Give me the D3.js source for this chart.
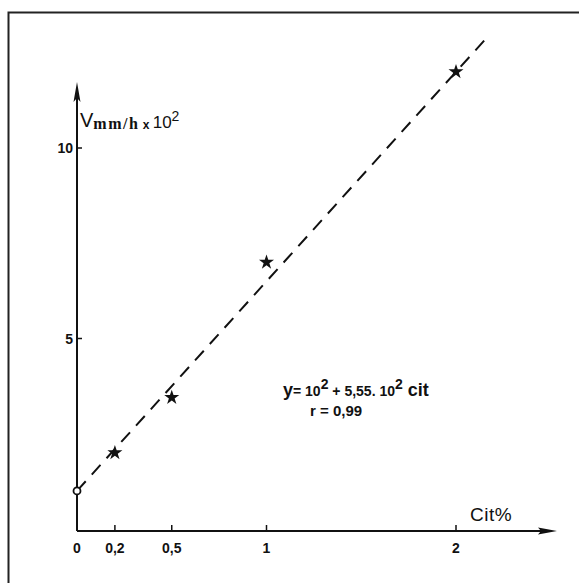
<!DOCTYPE html>
<html><head><meta charset="utf-8">
<script src="https://cdn.jsdelivr.net/npm/d3@7"></script>
<style>body{margin:0;background:#fff}svg{display:block}text{font-family:"Liberation Sans",Arial,sans-serif;fill:#111}</style>
</head><body>
<script>
// Data
const xTickValues = [0, 0.2, 0.5, 1, 2];
const xTickLabels = ["0", "0,2", "0,5", "1", "2"];
const yTickValues = [5, 10];
const yTickLabels = ["5", "10"];
const cit = [0.2, 0.5, 1, 2];          // Cit %
const speed = [2.0, 3.45, 7.0, 12.0];   // V mm/h x 10^2
const intercept = 1;                     // open circle at x=0
const slope = 5.5;
const fitEnd = 2.16;

const W = 579, H = 583;
const svg = d3.select("body").append("svg").attr("width", W).attr("height", H);

const x = d3.scaleLinear().domain([0, 2]).range([77, 456]);
const y = d3.scaleLinear().domain([0, 10]).range([529, 148]);

// frame
svg.append("path").attr("d", `M8.5,${H} L8.5,12.5 L${W},12.5`).attr("fill", "none").attr("stroke", "#222").attr("stroke-width", 2);

const axisY0 = 531;
// x axis
svg.append("line").attr("x1", x(0)).attr("x2", 545).attr("y1", axisY0).attr("y2", axisY0).attr("stroke", "#111").attr("stroke-width", 2);
svg.append("path").attr("d", `M557,${axisY0} L538,${axisY0-3.5} L541,${axisY0} L538,${axisY0+3.5} Z`).attr("fill", "#111");
// y axis
svg.append("line").attr("x1", x(0)).attr("x2", x(0)).attr("y1", axisY0).attr("y2", 95).attr("stroke", "#111").attr("stroke-width", 2);
svg.append("path").attr("d", `M${x(0)},82 L${x(0)-3.5},102 L${x(0)},98 L${x(0)+3.5},102 Z`).attr("fill", "#111");

// x ticks
const gx = svg.append("g");
xTickValues.forEach((v, i) => {
  if (v > 0) gx.append("line").attr("x1", x(v)).attr("x2", x(v)).attr("y1", axisY0).attr("y2", axisY0 - 6).attr("stroke", "#111").attr("stroke-width", 1.5);
  gx.append("text").attr("x", x(v)).attr("y", 553).attr("text-anchor", "middle")
    .attr("font-size", 14).attr("font-weight", "bold").text(xTickLabels[i]);
});
// y ticks
const gy = svg.append("g");
yTickValues.forEach((v, i) => {
  gy.append("line").attr("x1", x(0)).attr("x2", x(0) + 5).attr("y1", y(v)).attr("y2", y(v)).attr("stroke", "#111").attr("stroke-width", 1.5);
  gy.append("text").attr("x", x(0) - 4).attr("y", y(v) + 5).attr("text-anchor", "end")
    .attr("font-size", 14).attr("font-weight", "bold").text(yTickLabels[i]);
});

// fit line (dashed)
svg.append("line")
  .attr("x1", x(0)).attr("y1", y(intercept))
  .attr("x2", x(fitEnd)).attr("y2", y(intercept + slope * fitEnd))
  .attr("stroke", "#111").attr("stroke-width", 2).attr("stroke-dasharray", "13,9");

// intercept circle
svg.append("circle").attr("cx", x(0)).attr("cy", y(intercept)).attr("r", 3.5)
  .attr("fill", "#fff").attr("stroke", "#111").attr("stroke-width", 1.8);

// stars
svg.selectAll(".pt").data(cit).join("path").attr("class", "pt")
  .attr("transform", (d, i) => `translate(${x(d)},${y(speed[i])})`)
  .attr("d", d3.symbol().type(d3.symbolStar).size(70))
  .attr("fill", "#111");

// y label
const yl = svg.append("text").attr("x", 80).attr("y", 127);
yl.append("tspan").attr("font-size", 20).text("V");
yl.append("tspan").attr("font-size", 16).attr("font-family", "Liberation Serif, serif").attr("font-weight", "bold").attr("letter-spacing", 1.5).attr("dy", 2).text("mm/h");
yl.append("tspan").attr("font-size", 12).attr("font-weight", "bold").text(" x ");
yl.append("tspan").attr("font-size", 17).attr("dy", -1).text("10");
yl.append("tspan").attr("font-size", 14).attr("dy", -7).text("2");

// x label
svg.append("text").attr("x", 470).attr("y", 521).attr("font-size", 19).attr("letter-spacing", 0.5).text("Cit%");

// equation
const eq = svg.append("text").attr("x", 283).attr("y", 396).attr("font-weight", "bold");
eq.append("tspan").attr("font-size", 18).text("y");
eq.append("tspan").attr("font-size", 14).text("= 10");
eq.append("tspan").attr("font-size", 14).attr("dy", -7).text("2");
eq.append("tspan").attr("font-size", 14).attr("dy", 7).text(" + 5,55. 10");
eq.append("tspan").attr("font-size", 14).attr("dy", -7).text("2");
eq.append("tspan").attr("font-size", 18).attr("dy", 7).text(" cit");
svg.append("text").attr("x", 310).attr("y", 416).attr("font-size", 15).attr("font-weight", "bold").text("r = 0,99");
</script>
</body></html>
